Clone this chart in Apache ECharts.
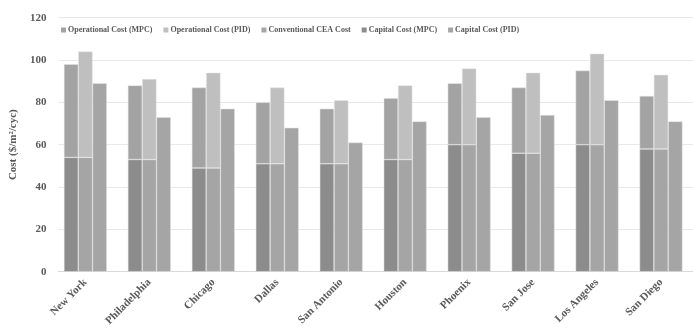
<!DOCTYPE html>
<html><head><meta charset="utf-8">
<script src="https://cdn.jsdelivr.net/npm/echarts@6/dist/echarts.min.js"></script>
<style>html,body{margin:0;padding:0;background:#fff}#c{width:693px;height:329px}</style>
</head><body><div id="c"></div>
<script>
var cities = ['New York','Philadelphia','Chicago','Dallas','San Antonio','Houston','Phoenix','San Jose','Los Angeles','San Diego'];
var capitalMPC = [54,53,49,51,51,53,60,56,60,58];
var capitalPID = [54,53,49,51,51,53,60,56,60,58];
var operationalMPC = [44,35,38,29,26,29,29,31,35,25];
var operationalPID = [50,38,45,36,30,35,36,38,43,35];
var conventional = [89,73,77,68,61,71,73,74,81,71];
var yTicks = [0,20,40,60,80,100,120];

var font = 'Liberation Serif';
var top0 = 17.7, h = 254;
var chart = echarts.init(document.getElementById('c'));
function bar(name, data, stack, color){
  return {name:name, type:'bar', data:data, stack:stack, barWidth:14.3, barGap:'0%',
    xAxisIndex:0, yAxisIndex:0,
    itemStyle:{color:color, borderColor:'#e4e4e4', borderWidth:0.5}};
}
chart.setOption({
  animation:false,
  textStyle:{fontFamily:font},
  legend:{
    top:21, left:56, itemWidth:5, itemHeight:5, itemGap:11,
    icon:'rect', itemStyle:{borderWidth:0},
    textStyle:{fontFamily:font, fontWeight:'bold', fontSize:8, color:'#595959', padding:[0,0,0,-3]},
    data:['Operational Cost (MPC)','Operational Cost (PID)','Conventional CEA Cost','Capital Cost (MPC)','Capital Cost (PID)']
  },
  grid:[
    {left:53.4, top:top0, width:645.7, height:h},
    {left:40, top:top0, right:0, height:h}
  ],
  xAxis:[
    {type:'category', gridIndex:0, data:cities,
      axisLine:{show:false}, axisTick:{show:false},
      axisLabel:{rotate:45, interval:0, fontFamily:font, fontWeight:'bold', fontSize:11, color:'#595959', margin:9}},
    {type:'value', gridIndex:1, min:0, max:1, show:true,
      axisLine:{show:true, lineStyle:{color:'#d9d9d9', width:1}}, axisTick:{show:false},
      axisLabel:{show:false}, splitLine:{show:false}}
  ],
  yAxis:[
    {type:'value', gridIndex:0, min:0, max:120, interval:20, show:false, splitLine:{show:false}},
    {type:'value', gridIndex:1, min:yTicks[0], max:yTicks[yTicks.length-1], interval:20,
      name:'Cost ($/m²/cyc)', nameLocation:'middle', nameGap:25, nameRotate:90,
      nameTextStyle:{fontFamily:font, fontWeight:'bold', fontSize:11, color:'#595959'},
      axisLine:{show:false}, axisTick:{show:false},
      axisLabel:{fontFamily:font, fontWeight:'bold', fontSize:11, color:'#595959', margin:12},
      splitLine:{lineStyle:{color:'#e8e8e8', width:1}}}
  ],
  series:[
    bar('Capital Cost (MPC)', capitalMPC, 'mpc', '#8c8c8c'),
    bar('Capital Cost (PID)', capitalPID, 'pid', '#a5a5a5'),
    bar('Conventional CEA Cost', conventional, 'conv', '#a5a5a5'),
    bar('Operational Cost (MPC)', operationalMPC, 'mpc', '#a3a3a3'),
    bar('Operational Cost (PID)', operationalPID, 'pid', '#bfbfbf')
  ]
});
</script></body></html>
